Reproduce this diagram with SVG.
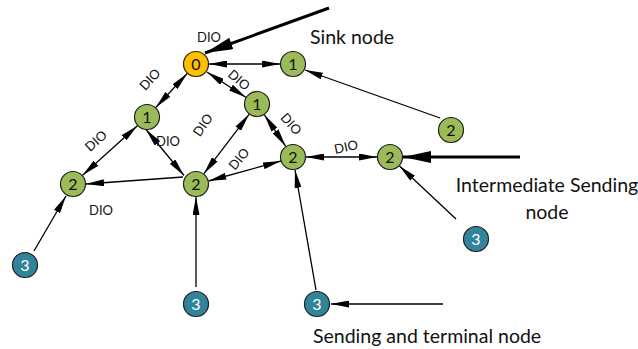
<svg xmlns="http://www.w3.org/2000/svg" width="638" height="349" viewBox="0 0 638 349">
<style>
.n circle{stroke:#1e1e1e;stroke-width:1.2}
.g circle{fill:#9BBB59}
.t circle{fill:#31849B}
.y circle{fill:#FFC000}
.n text{font-family:Lato,"Open Sans",sans-serif;font-size:16px;text-anchor:middle;fill:#111}
.t text{fill:#fff}
.e{stroke:#000;stroke-width:1.3;fill:none}
.k{stroke:#000;stroke-width:3;fill:none}
.lbl{font-family:Lato,"Open Sans",sans-serif;font-size:13px;text-anchor:middle;fill:#111}
.cap{font-family:Lato,"Open Sans",sans-serif;font-size:19.5px;fill:#111}
</style>
<defs>
<marker id="ah" markerUnits="userSpaceOnUse" viewBox="0 0 18 7" markerWidth="18" markerHeight="7" refX="18" refY="3.5" orient="auto-start-reverse"><path d="M0,0 L18,3.5 L0,7 z" fill="#000"/></marker>
<marker id="AH" markerUnits="userSpaceOnUse" viewBox="0 0 28 12" markerWidth="28" markerHeight="12" refX="28" refY="6" orient="auto"><path d="M0,0 L28,6 L0,12 z" fill="#000"/></marker>
</defs>
<g id="connectors">
<line class="k" x1="329" y1="8" x2="205" y2="53" marker-end="url(#AH)"/>
<line class="k" x1="520" y1="157" x2="403" y2="157" marker-end="url(#AH)"/>
<line class="e" x1="209" y1="64" x2="280" y2="64" marker-start="url(#ah)" marker-end="url(#ah)"/>
<line class="e" x1="187.2" y1="73.5" x2="155.8" y2="107.5" marker-start="url(#ah)" marker-end="url(#ah)"/>
<line class="e" x1="206.9" y1="72" x2="246.1" y2="97.5" marker-start="url(#ah)" marker-end="url(#ah)"/>
<line class="e" x1="137.4" y1="125.7" x2="82.6" y2="175.3" marker-start="url(#ah)" marker-end="url(#ah)"/>
<line class="e" x1="146" y1="129.5" x2="184" y2="175.5" marker-start="url(#ah)" marker-end="url(#ah)"/>
<line class="e" x1="249.1" y1="114.3" x2="203.9" y2="173.7" marker-start="url(#ah)" marker-end="url(#ah)"/>
<line class="e" x1="264.3" y1="114.7" x2="285.7" y2="146.3" marker-start="url(#ah)" marker-end="url(#ah)"/>
<line class="e" x1="208.5" y1="181" x2="281" y2="161" marker-start="url(#ah)" marker-end="url(#ah)"/>
<line class="e" x1="306" y1="157" x2="377" y2="157" marker-start="url(#ah)" marker-end="url(#ah)"/>
<line class="e" x1="183" y1="177" x2="86" y2="184" marker-end="url(#ah)"/>
<line class="e" x1="440" y1="118" x2="305" y2="70" marker-end="url(#ah)"/>
<line class="e" x1="456" y1="219" x2="399.5" y2="166" marker-end="url(#ah)"/>
<line class="e" x1="316" y1="290" x2="295" y2="170" marker-end="url(#ah)"/>
<line class="e" x1="196" y1="287" x2="196" y2="197" marker-end="url(#ah)"/>
<line class="e" x1="34" y1="251" x2="66" y2="196" marker-end="url(#ah)"/>
<line class="e" style="stroke-width:1.6" x1="443" y1="304" x2="331" y2="304" marker-end="url(#ah)"/>
</g>
<g id="n0" class="n y"><circle cx="196" cy="64" r="12.5"/><text x="196" y="70">0</text></g>
<g id="n1a" class="n g"><circle cx="293" cy="64" r="12.5"/><text x="293" y="70">1</text></g>
<g id="n1b" class="n g"><circle cx="147" cy="117" r="12.5"/><text x="147" y="123">1</text></g>
<g id="n1c" class="n g"><circle cx="257" cy="104" r="12.5"/><text x="257" y="110">1</text></g>
<g id="n2a" class="n g"><circle cx="73" cy="184" r="12.5"/><text x="73" y="190">2</text></g>
<g id="n2b" class="n g"><circle cx="196" cy="184" r="12.5"/><text x="196" y="190">2</text></g>
<g id="n2c" class="n g"><circle cx="293" cy="157" r="12.5"/><text x="293" y="163">2</text></g>
<g id="n2d" class="n g"><circle cx="390" cy="157" r="12.5"/><text x="390" y="163">2</text></g>
<g id="n2e" class="n g"><circle cx="451" cy="130" r="12.5"/><text x="451" y="136">2</text></g>
<g id="n3a" class="n t"><circle cx="25" cy="265" r="12.5"/><text x="25" y="271">3</text></g>
<g id="n3b" class="n t"><circle cx="196" cy="304" r="12.5"/><text x="196" y="310">3</text></g>
<g id="n3c" class="n t"><circle cx="317" cy="304" r="12.5"/><text x="317" y="310">3</text></g>
<g id="n3d" class="n t"><circle cx="476" cy="239" r="12.5"/><text x="476" y="245">3</text></g>
<g id="labels">
<text class="lbl" x="209" y="41.5">DIO</text>
<text class="lbl" x="168" y="145.5">DIO</text>
<text class="lbl" x="101" y="214.5">DIO</text>
<text class="lbl" transform="translate(150,79.5) rotate(-47)" x="0" y="4.5">DIO</text>
<text class="lbl" transform="translate(239,80) rotate(40)" x="0" y="4.5">DIO</text>
<text class="lbl" transform="translate(96,141) rotate(-42)" x="0" y="4.5">DIO</text>
<text class="lbl" transform="translate(203,125) rotate(-55)" x="0" y="4.5">DIO</text>
<text class="lbl" transform="translate(291,124) rotate(48)" x="0" y="4.5">DIO</text>
<text class="lbl" transform="translate(239,159) rotate(-50)" x="0" y="4.5">DIO</text>
<text class="lbl" transform="translate(346,147) rotate(-12)" x="0" y="4.5">DIO</text>
<text class="cap" x="310" y="44">Sink node</text>
<text class="cap" x="547" y="192" text-anchor="middle">Intermediate Sending</text>
<text class="cap" x="547" y="219" text-anchor="middle">node</text>
<text class="cap" x="313" y="343">Sending and terminal node</text>
</g>
</svg>
